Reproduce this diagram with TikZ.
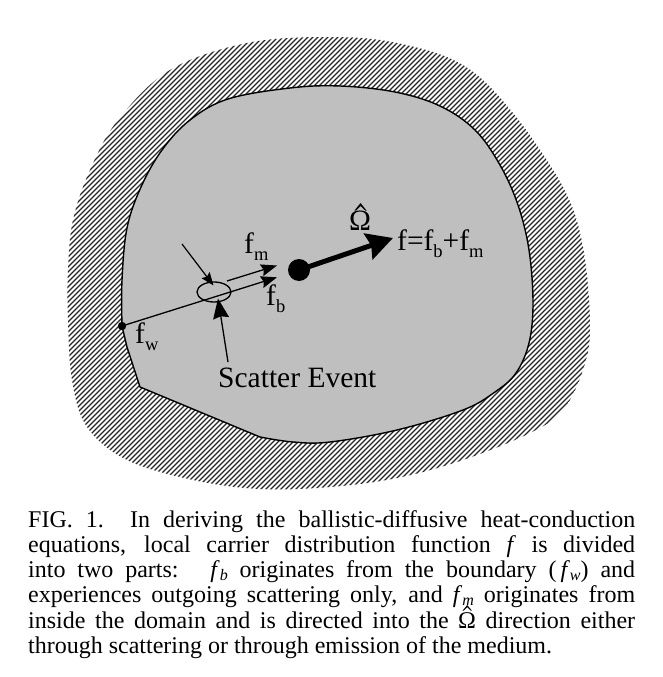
\documentclass[tikz,border=0pt]{standalone}
\usepackage{fontspec}
\setmainfont{Liberation Serif}
\usetikzlibrary{arrows.meta}
\newcommand{\fsb}[1]{f\raisebox{-7pt}{\fontsize{18.5}{18.5}\selectfont #1}}
\newcommand{\cf}[1]{\textit{f}\raisebox{-3pt}{\fontsize{16}{16}\selectfont\itshape #1}}
\newcommand{\omhat}{\tikz[baseline=0pt,x=1pt,y=1pt]{\node[inner sep=0pt,anchor=base west] (om2) at (0,0) {Ω};
  \fill[overlay] (4.6,17.6) -- (9.2,23.2) -- (13.8,17.6) -- (12.6,17.6) -- (9.2,21.0) -- (5.8,17.6) -- cycle;}}
\begin{document}
\begin{tikzpicture}[x=1pt,y=-1pt,
  lab/.style={inner sep=0pt, font=\fontsize{29.5}{32}\selectfont, anchor=base west},
  hatchline/.style={line width=1.2pt, black!85},
  bound/.style={line width=1.4pt, line join=round},
  thinarrow/.style={line width=1.3pt, -{Stealth[length=16pt,width=12pt,inset=2pt]}},
  bigarrow/.style={line width=5pt, -{Stealth[length=26pt,width=27pt,inset=3pt]}},
  caption/.style={anchor=base west, inner sep=0pt, align=left}
]
\useasboundingbox (0,0) rectangle (662,677);
\fill[white] (0,0) rectangle (662,677);

% outer hatched region
\begin{scope}
  \clip plot[smooth cycle, tension=0.6] coordinates {
    (68,270) (73,220) (90,170) (118,120) (170,70) (247,43) (330,37)
    (397,43) (463,65) (513,113) (563,187) (583,247) (590,327)
    (583,370) (563,410) (530,433) (463,460) (397,478) (330,487)
    (260,489) (193,480) (127,460) (87,427) (72,380) (68,320)};
  \foreach \c in {-460,-455,...,620}
    \draw[hatchline] (\c,510) -- (\c+480,30);
\end{scope}

% inner gray domain
\filldraw[fill=black!25, bound]
  plot[smooth, tension=0.6] coordinates {
    (122,326) (122,280) (127,228) (141,187) (162,150) (190,120) (228,99)
    (290,88) (340,86) (395,92) (440,106) (475,130) (500,165) (518,205)
    (529,250) (533,303) (529,343) (516,373) (495,392) (463,410)
    (397,430) (330,442) (293,442) (260,437)}
  -- (140,387) -- (127,347) -- cycle;

% named points
\coordinate (fw) at (122,326);
\coordinate (tipb) at (277,277.3);
\coordinate (mstart) at (227,281);
\coordinate (tipm) at (277,265.5);
\coordinate (inA) at (182,244);
\coordinate (inB) at (213.5,285.5);
\coordinate (scA) at (228,362);
\coordinate (scB) at (218,298.5);
\coordinate (omtip) at (393,238);

% scatter ellipse
\draw[line width=1.3pt] (214,292) ellipse [x radius=17, y radius=10];
\node[inner sep=0pt] (scat) at (214,292) {};

% rays
\draw[thinarrow] (fw) -- (tipb);
\draw[thinarrow] (mstart) -- (tipm);
\draw[line width=1.2pt, -{Stealth[length=13pt,width=10pt,inset=2pt]}] (inA) -- (inB);
\draw[line width=1.3pt, -{Stealth[length=20pt,width=16pt,inset=2pt]}] (scA) -- (scB);

% wall point
\fill (fw) circle (4.2);

% big dot and omega arrow
\node[circle, fill=black, inner sep=0pt, minimum size=22pt] (dot) at (299,270) {};
\draw[bigarrow] (dot.center) -- (omtip);

% labels
\node[lab] (lfm) at (244,253) {\fsb{m}};
\node[lab] (lfb) at (266,305) {\fsb{b}};
\node[lab] (lfw) at (135,343) {\fsb{w}};
\node[lab] (lom) at (349,230) {Ω};
\fill (354.5,210.5) -- (360.5,203) -- (366.5,210.5) -- (365,210.5) -- (360.5,206) -- (356,210.5) -- cycle;
\node[lab] (lf) at (397,250) {f=\fsb{b}+\fsb{m}};
\node[lab] (lse) at (218,387) {Scatter Event};

% caption
\node[caption] (cap) at (28,527) {\parbox[t]{607pt}{\fontsize{24}{25.3}\selectfont\hyphenpenalty=10000\exhyphenpenalty=10000
FIG. 1.\ \ In deriving the ballistic-diffusive heat-conduction\linebreak
equations, local carrier distribution function \textit{f} is divided\linebreak
into two parts: \ \cf{b} originates from the boundary (\,\cf{w}) and\linebreak
experiences outgoing scattering only, and \cf{m} originates from\linebreak
inside the domain and is directed into the \omhat{} direction either\linebreak
through scattering or through emission of the medium.}};
\end{tikzpicture}
\end{document}
